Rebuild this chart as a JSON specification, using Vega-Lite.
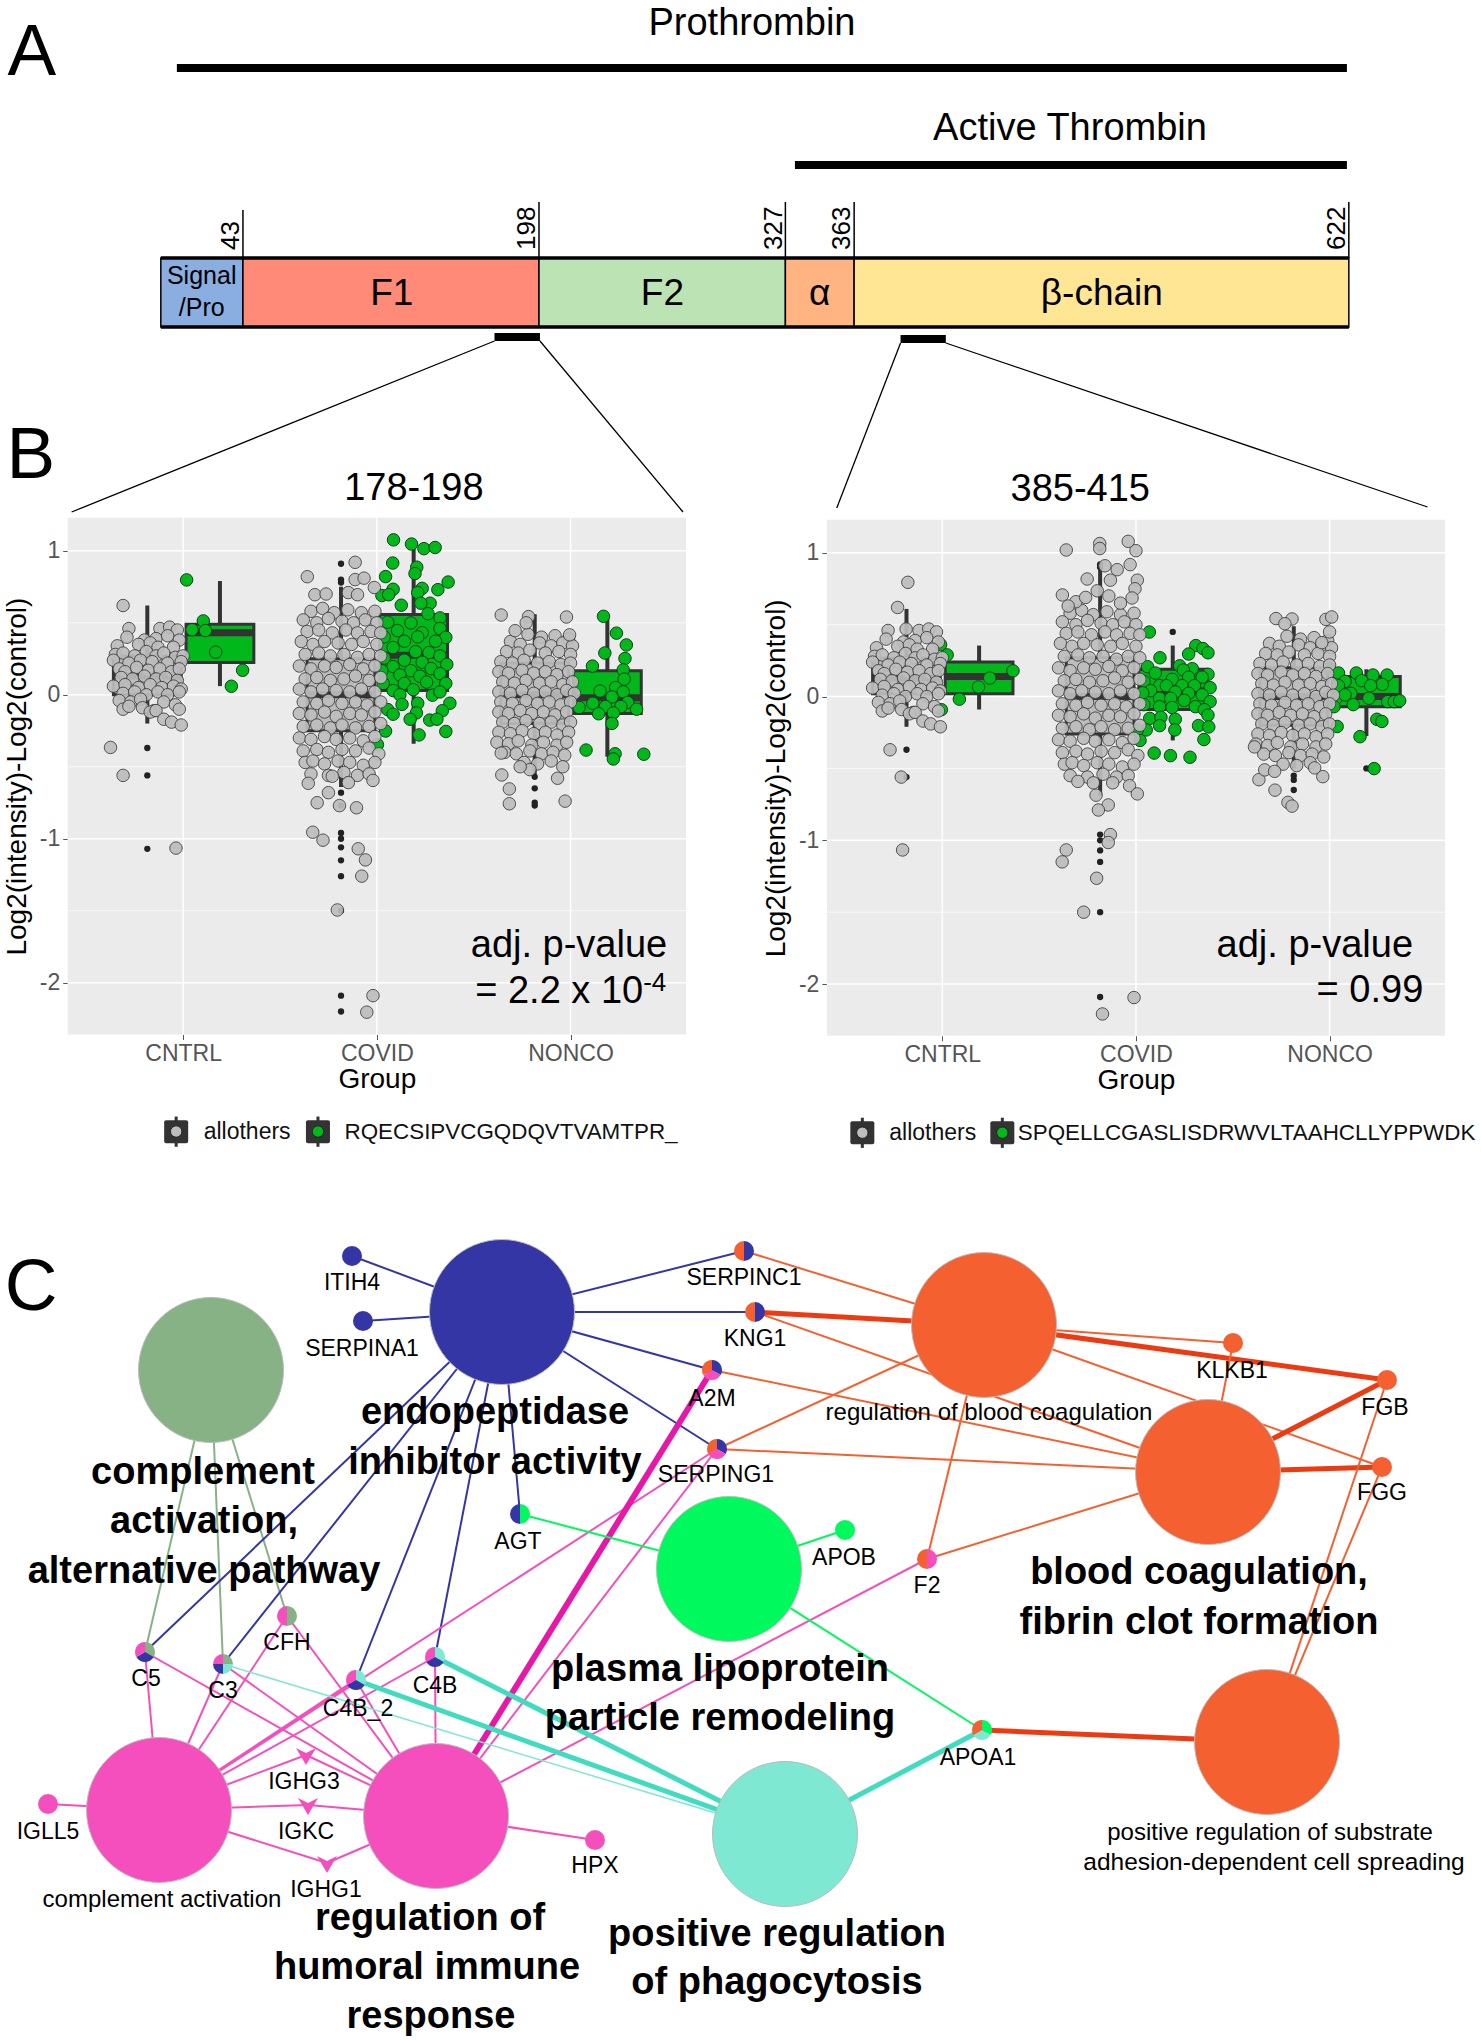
{"$schema":"https://vega.github.io/schema/vega-lite/v6.json","width":1481,"height":2040,"padding":0,"autosize":{"type":"none"},"background":"white",
"config":{"view":{"stroke":null},"font":"Liberation Sans","legend":{"disable":true},"text":{"font":"Liberation Sans"}},
"resolve":{"scale":{"x":"independent","y":"independent","color":"independent"},"axis":{"x":"independent","y":"independent"}},
"datasets":{
"track":[{"r":0,"r2":43,"l":25.8,"l2":32.7,"d":"Signal"},{"r":43,"r2":198,"l":25.8,"l2":32.7,"d":"F1"},{"r":198,"r2":327,"l":25.8,"l2":32.7,"d":"F2"},{"r":327,"r2":363,"l":25.8,"l2":32.7,"d":"alpha"},{"r":363,"r2":622,"l":25.8,"l2":32.7,"d":"beta"}],
"trackRules":[{"r":8.4,"r2":621,"l":6.8,"l2":6.8,"w":8},{"r":332,"r2":621,"l":16.5,"l2":16.5,"w":8},{"r":43,"r2":43,"l":21,"l2":25.8,"w":1.5},{"r":198,"r2":198,"l":20.2,"l2":25.8,"w":1.5},{"r":327,"r2":327,"l":20.2,"l2":25.8,"w":1.5},{"r":363,"r2":363,"l":20.2,"l2":25.8,"w":1.5},{"r":622,"r2":622,"l":20.2,"l2":25.8,"w":1.5},{"r":0,"r2":622,"l":25.8,"l2":25.8,"w":3.5},{"r":0,"r2":622,"l":32.7,"l2":32.7,"w":3.5},{"r":174.7,"r2":198.5,"l":33.7,"l2":33.7,"w":8},{"r":387.3,"r2":411,"l":33.9,"l2":33.9,"w":8},{"r":174.7,"r2":-46.7,"l":34.1,"l2":51.2,"w":1.3},{"r":198.5,"r2":273.4,"l":34.1,"l2":51.2,"w":1.3},{"r":387.3,"r2":353.9,"l":34.3,"l2":50.8,"w":1.3},{"r":411,"r2":663.2,"l":34.3,"l2":50.7,"w":1.3}],
"trackText":[{"t":"Prothrombin","r":309.5,"l":2.4,"s":38},{"t":"Active Thrombin","r":476,"l":12.9,"s":38},{"t":"F1","r":120.9,"l":29.4,"s":37},{"t":"F2","r":262.6,"l":29.4,"s":37},{"t":"α","r":345,"l":29.4,"s":37},{"t":"β-chain","r":492.7,"l":29.4,"s":37},{"t":"Signal","r":21.4,"l":27.6,"s":25},{"t":"/Pro","r":21.4,"l":30.8,"s":25},{"t":"178-198","r":132.5,"l":48.9,"s":38},{"t":"385-415","r":481.4,"l":49,"s":38},{"t":"A","r":-67.5,"l":5.3,"s":73},{"t":"B","r":-68,"l":45.6,"s":73}],
"resLabels":[{"t":"43","r":41,"l":25},{"t":"198","r":196,"l":25},{"t":"327","r":325,"l":25},{"t":"363","r":361,"l":25},{"t":"622","r":620,"l":25}],
"panel":[{"a":0.404,"b":3.596,"c":-2.36,"d":1.23}],
"gridY":[{"v":1,"a":0.404,"b":3.596,"w":1.5},{"v":0,"a":0.404,"b":3.596,"w":1.5},{"v":-1,"a":0.404,"b":3.596,"w":1.5},{"v":-2,"a":0.404,"b":3.596,"w":1.5},{"v":0.5,"a":0.404,"b":3.596,"w":0.7},{"v":-0.5,"a":0.404,"b":3.596,"w":0.7},{"v":-1.5,"a":0.404,"b":3.596,"w":0.7}],
"gridX":[{"v":1,"c":-2.36,"d":1.23},{"v":2,"c":-2.36,"d":1.23},{"v":3,"c":-2.36,"d":1.23}],
"box1":[{"x0":0.64,"x1":0.99,"p":0.815,"lo":-0.2,"q1":0,"m":0.13,"q3":0.27,"hi":0.62,"k":"o"},{"x0":1.015,"x1":1.365,"p":1.19,"lo":0.06,"q1":0.225,"m":0.43,"q3":0.49,"hi":0.79,"k":"g"},{"x0":1.64,"x1":1.99,"p":1.815,"lo":-0.64,"q1":-0.25,"m":0,"q3":0.25,"hi":0.75,"k":"o"},{"x0":2.015,"x1":2.365,"p":2.19,"lo":-0.34,"q1":0.03,"m":0.275,"q3":0.557,"hi":1.05,"k":"g"},{"x0":2.64,"x1":2.99,"p":2.815,"lo":-0.58,"q1":-0.2,"m":0,"q3":0.22,"hi":0.56,"k":"o"},{"x0":3.015,"x1":3.365,"p":3.19,"lo":-0.43,"q1":-0.13,"m":-0.02,"q3":0.167,"hi":0.53,"k":"g"}],
"box2":[{"x0":0.64,"x1":0.99,"p":0.815,"lo":-0.21,"q1":0.02,"m":0.13,"q3":0.267,"hi":0.61,"k":"o"},{"x0":1.015,"x1":1.365,"p":1.19,"lo":-0.09,"q1":0.02,"m":0.14,"q3":0.24,"hi":0.355,"k":"g"},{"x0":1.64,"x1":1.99,"p":1.815,"lo":-0.69,"q1":-0.26,"m":0,"q3":0.27,"hi":0.93,"k":"o"},{"x0":2.015,"x1":2.365,"p":2.19,"lo":-0.305,"q1":-0.09,"m":0.04,"q3":0.19,"hi":0.355,"k":"g"},{"x0":2.64,"x1":2.99,"p":2.815,"lo":-0.5,"q1":-0.2,"m":0,"q3":0.2,"hi":0.49,"k":"o"},{"x0":3.015,"x1":3.365,"p":3.19,"lo":-0.275,"q1":-0.07,"m":0,"q3":0.14,"hi":0.19,"k":"g"}],
"out1":[{"x":0.815,"y":-0.37},{"x":0.815,"y":-0.56},{"x":0.815,"y":-1.07},{"x":1.815,"y":0.91},{"x":1.815,"y":0.8},{"x":1.815,"y":0.78},{"x":1.815,"y":-0.68},{"x":1.815,"y":-0.77},{"x":1.815,"y":-0.96},{"x":1.815,"y":-1},{"x":1.815,"y":-1.06},{"x":1.815,"y":-1.15},{"x":1.815,"y":-1.26},{"x":1.815,"y":-1.5},{"x":1.815,"y":-2.09},{"x":1.815,"y":-2.2},{"x":2.815,"y":-0.57},{"x":2.815,"y":-0.65},{"x":2.815,"y":-0.75},{"x":2.815,"y":-0.77}],
"out2":[{"x":0.815,"y":-0.37},{"x":0.815,"y":-0.56},{"x":1.815,"y":1.05},{"x":1.815,"y":1.03},{"x":1.815,"y":0.92},{"x":1.815,"y":0.9},{"x":1.815,"y":-0.96},{"x":1.815,"y":-1},{"x":1.815,"y":-1.07},{"x":1.815,"y":-1.15},{"x":1.815,"y":-1.5},{"x":1.815,"y":-2.09},{"x":2.815,"y":-0.55},{"x":2.815,"y":-0.58},{"x":2.815,"y":-0.65},{"x":2.19,"y":0.45},{"x":3.19,"y":-0.5}],
"core":[{"x":0.72,"y":0.46},{"x":0.88,"y":0.46},{"x":0.93,"y":0.47},{"x":0.97,"y":0.45},{"x":0.71,"y":0.4},{"x":0.8,"y":0.38},{"x":0.86,"y":0.39},{"x":0.92,"y":0.41},{"x":0.98,"y":0.38},{"x":0.66,"y":0.34},{"x":0.77,"y":0.35},{"x":0.83,"y":0.36},{"x":0.87,"y":0.33},{"x":0.95,"y":0.33},{"x":0.65,"y":0.28},{"x":0.69,"y":0.29},{"x":0.75,"y":0.27},{"x":0.81,"y":0.3},{"x":0.86,"y":0.27},{"x":0.9,"y":0.29},{"x":0.96,"y":0.26},{"x":1,"y":0.27},{"x":0.64,"y":0.24},{"x":0.72,"y":0.22},{"x":0.78,"y":0.24},{"x":0.84,"y":0.23},{"x":0.92,"y":0.22},{"x":0.99,"y":0.23},{"x":0.67,"y":0.18},{"x":0.7,"y":0.16},{"x":0.76,"y":0.19},{"x":0.82,"y":0.17},{"x":0.88,"y":0.18},{"x":0.94,"y":0.16},{"x":0.98,"y":0.18},{"x":0.68,"y":0.12},{"x":0.74,"y":0.11},{"x":0.8,"y":0.13},{"x":0.86,"y":0.11},{"x":0.91,"y":0.12},{"x":0.97,"y":0.1},{"x":0.64,"y":0.06},{"x":0.7,"y":0.07},{"x":0.77,"y":0.05},{"x":0.83,"y":0.07},{"x":0.89,"y":0.05},{"x":0.95,"y":0.06},{"x":0.99,"y":0.04},{"x":0.69,"y":0.01},{"x":0.75,"y":0.02},{"x":0.81,"y":0},{"x":0.87,"y":0.02},{"x":0.92,"y":0},{"x":0.98,"y":0.02},{"x":0.67,"y":-0.04},{"x":0.73,"y":-0.05},{"x":0.78,"y":-0.03},{"x":0.9,"y":-0.05},{"x":0.96,"y":-0.07},{"x":0.69,"y":-0.1},{"x":0.72,"y":-0.08},{"x":0.79,"y":-0.09},{"x":0.85,"y":-0.11},{"x":0.98,"y":-0.1},{"x":0.83,"y":-0.12},{"x":0.86,"y":-0.11},{"x":0.9,"y":-0.17},{"x":0.94,"y":-0.19},{"x":0.99,"y":-0.21},
{"x":1.66,"y":0.58},{"x":1.72,"y":0.6},{"x":1.78,"y":0.57},{"x":1.85,"y":0.59},{"x":1.92,"y":0.57},{"x":1.99,"y":0.58},{"x":1.62,"y":0.52},{"x":1.69,"y":0.5},{"x":1.75,"y":0.53},{"x":1.82,"y":0.51},{"x":1.88,"y":0.5},{"x":1.94,"y":0.52},{"x":2,"y":0.5},{"x":1.64,"y":0.44},{"x":1.7,"y":0.45},{"x":1.77,"y":0.43},{"x":1.84,"y":0.45},{"x":1.9,"y":0.43},{"x":1.97,"y":0.44},{"x":2.02,"y":0.43},{"x":1.61,"y":0.37},{"x":1.67,"y":0.35},{"x":1.73,"y":0.37},{"x":1.8,"y":0.36},{"x":1.87,"y":0.35},{"x":1.93,"y":0.37},{"x":2,"y":0.35},{"x":1.63,"y":0.28},{"x":1.7,"y":0.29},{"x":1.76,"y":0.27},{"x":1.83,"y":0.28},{"x":1.9,"y":0.26},{"x":1.96,"y":0.28},{"x":2.02,"y":0.27},{"x":1.6,"y":0.2},{"x":1.66,"y":0.18},{"x":1.73,"y":0.2},{"x":1.79,"y":0.19},{"x":1.86,"y":0.21},{"x":1.93,"y":0.18},{"x":1.99,"y":0.2},{"x":1.63,"y":0.11},{"x":1.69,"y":0.12},{"x":1.76,"y":0.1},{"x":1.83,"y":0.11},{"x":1.89,"y":0.13},{"x":1.96,"y":0.1},{"x":2.02,"y":0.12},{"x":1.6,"y":0.04},{"x":1.66,"y":0.02},{"x":1.72,"y":0.04},{"x":1.79,"y":0.03},{"x":1.86,"y":0.02},{"x":1.92,"y":0.04},{"x":1.99,"y":0.02},{"x":1.62,"y":-0.05},{"x":1.69,"y":-0.06},{"x":1.75,"y":-0.04},{"x":1.82,"y":-0.06},{"x":1.89,"y":-0.05},{"x":1.95,"y":-0.07},{"x":2.02,"y":-0.05},{"x":1.6,"y":-0.13},{"x":1.66,"y":-0.14},{"x":1.73,"y":-0.12},{"x":1.79,"y":-0.15},{"x":1.86,"y":-0.13},{"x":1.92,"y":-0.14},{"x":1.99,"y":-0.12},{"x":1.62,"y":-0.22},{"x":1.69,"y":-0.21},{"x":1.76,"y":-0.23},{"x":1.82,"y":-0.21},{"x":1.89,"y":-0.23},{"x":1.96,"y":-0.22},{"x":2.02,"y":-0.2},{"x":1.6,"y":-0.3},{"x":1.66,"y":-0.31},{"x":1.73,"y":-0.29},{"x":1.79,"y":-0.31},{"x":1.86,"y":-0.3},{"x":1.93,"y":-0.32},{"x":1.99,"y":-0.29},{"x":1.62,"y":-0.39},{"x":1.69,"y":-0.38},{"x":1.75,"y":-0.4},{"x":1.82,"y":-0.38},{"x":1.89,"y":-0.39},{"x":1.96,"y":-0.37},{"x":2.01,"y":-0.41},{"x":1.63,"y":-0.47},{"x":1.67,"y":-0.46},{"x":1.73,"y":-0.48},{"x":1.8,"y":-0.46},{"x":1.86,"y":-0.47},{"x":1.93,"y":-0.49},{"x":1.99,"y":-0.47},{"x":1.66,"y":-0.55},{"x":1.75,"y":-0.56},{"x":1.83,"y":-0.54},{"x":1.9,"y":-0.56},{"x":1.96,"y":-0.55},
{"x":2.78,"y":0.42},{"x":2.85,"y":0.4},{"x":2.92,"y":0.41},{"x":2.99,"y":0.39},{"x":2.69,"y":0.37},{"x":2.74,"y":0.35},{"x":2.84,"y":0.36},{"x":2.9,"y":0.34},{"x":2.96,"y":0.36},{"x":3.01,"y":0.34},{"x":2.67,"y":0.3},{"x":2.73,"y":0.29},{"x":2.79,"y":0.31},{"x":2.87,"y":0.29},{"x":2.94,"y":0.3},{"x":3,"y":0.28},{"x":2.64,"y":0.23},{"x":2.7,"y":0.22},{"x":2.76,"y":0.24},{"x":2.83,"y":0.22},{"x":2.89,"y":0.23},{"x":2.95,"y":0.21},{"x":3,"y":0.22},{"x":2.63,"y":0.16},{"x":2.68,"y":0.15},{"x":2.75,"y":0.17},{"x":2.81,"y":0.15},{"x":2.87,"y":0.16},{"x":2.93,"y":0.14},{"x":2.99,"y":0.16},{"x":2.65,"y":0.09},{"x":2.71,"y":0.08},{"x":2.77,"y":0.1},{"x":2.84,"y":0.08},{"x":2.9,"y":0.09},{"x":2.96,"y":0.07},{"x":3.01,"y":0.09},{"x":2.63,"y":0.02},{"x":2.69,"y":0.01},{"x":2.75,"y":0.03},{"x":2.81,"y":0.01},{"x":2.87,"y":0.02},{"x":2.93,"y":0},{"x":2.98,"y":0.03},{"x":3.02,"y":0.01},{"x":2.64,"y":-0.05},{"x":2.7,"y":-0.06},{"x":2.77,"y":-0.04},{"x":2.83,"y":-0.06},{"x":2.89,"y":-0.05},{"x":2.95,"y":-0.07},{"x":3,"y":-0.05},{"x":2.63,"y":-0.12},{"x":2.68,"y":-0.13},{"x":2.74,"y":-0.11},{"x":2.8,"y":-0.13},{"x":2.86,"y":-0.12},{"x":2.92,"y":-0.14},{"x":2.98,"y":-0.12},{"x":2.65,"y":-0.19},{"x":2.71,"y":-0.2},{"x":2.77,"y":-0.18},{"x":2.84,"y":-0.2},{"x":2.9,"y":-0.19},{"x":2.96,"y":-0.21},{"x":3,"y":-0.19},{"x":2.63,"y":-0.26},{"x":2.69,"y":-0.27},{"x":2.75,"y":-0.25},{"x":2.81,"y":-0.27},{"x":2.87,"y":-0.26},{"x":2.93,"y":-0.28},{"x":2.99,"y":-0.26},{"x":2.62,"y":-0.33},{"x":2.68,"y":-0.34},{"x":2.73,"y":-0.32},{"x":2.8,"y":-0.35},{"x":2.86,"y":-0.33},{"x":2.93,"y":-0.35},{"x":2.98,"y":-0.33},{"x":2.66,"y":-0.4},{"x":2.72,"y":-0.41},{"x":2.79,"y":-0.39},{"x":2.85,"y":-0.41},{"x":2.91,"y":-0.4},{"x":2.97,"y":-0.42},{"x":2.76,"y":-0.47},{"x":2.83,"y":-0.48},{"x":2.9,"y":-0.46}],
"ex1":[{"x":0.625,"y":-0.366},{"x":0.69,"y":-0.56},{"x":0.963,"y":-1.065},{"x":0.69,"y":0.62},{"x":1.888,"y":0.92},{"x":1.641,"y":0.82},{"x":1.888,"y":0.8},{"x":1.934,"y":0.81},{"x":1.987,"y":0.745},{"x":1.68,"y":0.695},{"x":1.738,"y":0.7},{"x":1.853,"y":0.71},{"x":1.9,"y":0.695},{"x":1.692,"y":-0.75},{"x":1.75,"y":-0.68},{"x":1.807,"y":-0.77},{"x":1.895,"y":-0.785},{"x":1.669,"y":-0.955},{"x":1.722,"y":-1.01},{"x":1.904,"y":-1.07},{"x":1.941,"y":-1.147},{"x":1.922,"y":-1.26},{"x":1.796,"y":-1.495},{"x":1.98,"y":-2.09},{"x":1.948,"y":-2.205},{"x":1.646,"y":-0.615},{"x":1.853,"y":-0.61},{"x":1.98,"y":-0.595},{"x":1.77,"y":-0.566},{"x":2.642,"y":0.554},{"x":2.783,"y":0.543},{"x":2.979,"y":0.54},{"x":2.771,"y":0.5},{"x":2.714,"y":0.445},{"x":2.995,"y":0.416},{"x":2.645,"y":-0.557},{"x":2.684,"y":-0.654},{"x":2.684,"y":-0.757},{"x":2.972,"y":-0.739},{"x":2.933,"y":-0.58},{"x":2.642,"y":-0.405},{"x":2.79,"y":-0.52},{"x":2.74,"y":-0.5},{"x":2.96,"y":-0.5}],
"ex2":[{"x":0.822,"y":0.795},{"x":0.769,"y":0.62},{"x":0.73,"y":-0.37},{"x":0.788,"y":-0.56},{"x":0.795,"y":-1.067},{"x":0.813,"y":0.47},{"x":1.64,"y":1.02},{"x":1.813,"y":1.065},{"x":1.813,"y":1.03},{"x":1.96,"y":1.08},{"x":2,"y":1.015},{"x":1.84,"y":0.91},{"x":1.903,"y":0.883},{"x":1.97,"y":0.918},{"x":2.007,"y":0.81},{"x":1.748,"y":0.818},{"x":1.868,"y":0.81},{"x":1.62,"y":0.707},{"x":1.995,"y":0.75},{"x":1.98,"y":0.686},{"x":1.8,"y":0.736},{"x":1.69,"y":0.66},{"x":1.74,"y":0.69},{"x":1.86,"y":0.7},{"x":1.92,"y":0.65},{"x":1.65,"y":0.63},{"x":1.794,"y":-0.686},{"x":1.857,"y":-0.754},{"x":1.806,"y":-0.789},{"x":1.967,"y":-0.62},{"x":2.007,"y":-0.677},{"x":1.868,"y":-0.96},{"x":1.857,"y":-1.015},{"x":1.64,"y":-1.067},{"x":1.619,"y":-1.15},{"x":1.797,"y":-1.264},{"x":1.73,"y":-1.5},{"x":1.99,"y":-2.094},{"x":1.827,"y":-2.208},{"x":1.7,"y":-0.59},{"x":1.78,"y":-0.6},{"x":1.88,"y":-0.6},{"x":2.723,"y":0.543},{"x":2.806,"y":0.54},{"x":2.981,"y":0.537},{"x":3.011,"y":0.554},{"x":2.769,"y":0.507},{"x":3,"y":0.45},{"x":2.96,"y":0.375},{"x":2.635,"y":-0.578},{"x":2.718,"y":-0.651},{"x":2.785,"y":-0.736},{"x":2.806,"y":-0.762},{"x":2.965,"y":-0.557},{"x":2.923,"y":-0.496},{"x":2.612,"y":-0.35},{"x":2.665,"y":-0.51},{"x":2.716,"y":-0.52}],
"gr1":[{"x":1.018,"y":0.798},{"x":1.104,"y":0.513},{"x":1.046,"y":0.452},{"x":1.115,"y":0.446},{"x":1.168,"y":0.296},{"x":1.307,"y":0.17},{"x":1.249,"y":0.059},{"x":2.086,"y":1.076},{"x":2.179,"y":1.047},{"x":2.243,"y":1.015},{"x":2.301,"y":1.023},{"x":2.082,"y":0.915},{"x":2.206,"y":0.886},{"x":2.197,"y":0.842},{"x":2.045,"y":0.821},{"x":2.368,"y":0.783},{"x":2.315,"y":0.73},{"x":2.234,"y":0.739},{"x":2.211,"y":0.71},{"x":2.084,"y":0.733},{"x":2.026,"y":0.689},{"x":2.061,"y":0.695},{"x":2.126,"y":0.622},{"x":2.275,"y":0.636},{"x":2.227,"y":0.636},{"x":2.264,"y":0.563},{"x":2.326,"y":0.534},{"x":2.056,"y":0.504},{"x":2.176,"y":0.499},{"x":2.326,"y":0.46},{"x":2.107,"y":0.446},{"x":2.234,"y":0.431},{"x":2.356,"y":0.399},{"x":2.038,"y":0.402},{"x":2.142,"y":0.372},{"x":2.211,"y":0.402},{"x":2.303,"y":0.372},{"x":2.084,"y":0.328},{"x":2.269,"y":0.293},{"x":2.2,"y":0.299},{"x":2.038,"y":0.255},{"x":2.142,"y":0.24},{"x":2.326,"y":0.27},{"x":2.361,"y":0.211},{"x":2.234,"y":0.226},{"x":2.084,"y":0.196},{"x":2.176,"y":0.167},{"x":2.28,"y":0.182},{"x":2.026,"y":0.167},{"x":2.326,"y":0.147},{"x":2.119,"y":0.138},{"x":2.222,"y":0.129},{"x":2.033,"y":0.079},{"x":2.142,"y":0.079},{"x":2.257,"y":0.088},{"x":2.356,"y":0.079},{"x":2.084,"y":0.029},{"x":2.188,"y":0.035},{"x":2.287,"y":-0.003},{"x":2.119,"y":0},{"x":2.326,"y":0.02},{"x":2.377,"y":-0.059},{"x":2.13,"y":-0.067},{"x":2.211,"y":-0.059},{"x":2.056,"y":-0.103},{"x":2.338,"y":-0.111},{"x":2.084,"y":-0.135},{"x":2.204,"y":-0.126},{"x":2.172,"y":-0.17},{"x":2.273,"y":-0.176},{"x":2.31,"y":-0.17},{"x":2.045,"y":-0.252},{"x":2.218,"y":-0.279},{"x":2.356,"y":-0.255},{"x":2.003,"y":-0.346},{"x":3.17,"y":0.545},{"x":3.237,"y":0.428},{"x":3.288,"y":0.346},{"x":3.177,"y":0.29},{"x":3.281,"y":0.252},{"x":3.113,"y":0.199},{"x":3.272,"y":0.173},{"x":3.277,"y":0.109},{"x":3.233,"y":0.05},{"x":3.152,"y":0.026},{"x":3.272,"y":0.02},{"x":3.214,"y":-0.015},{"x":3.115,"y":-0.059},{"x":3.295,"y":-0.053},{"x":3.044,"y":-0.088},{"x":3.18,"y":-0.082},{"x":3.26,"y":-0.082},{"x":3.341,"y":-0.1},{"x":3.145,"y":-0.132},{"x":3.221,"y":-0.126},{"x":3.214,"y":-0.199},{"x":3.08,"y":-0.384},{"x":3.23,"y":-0.41},{"x":3.221,"y":-0.446},{"x":3.378,"y":-0.413}],
"gr2":[{"x":0.991,"y":0.361},{"x":1.025,"y":0.29},{"x":1.365,"y":0.179},{"x":1.245,"y":0.129},{"x":1.187,"y":0.067},{"x":1.088,"y":-0.018},{"x":0.995,"y":-0.091},{"x":2.069,"y":0.449},{"x":2.309,"y":0.355},{"x":2.346,"y":0.334},{"x":2.372,"y":0.305},{"x":2.272,"y":0.296},{"x":2.124,"y":0.27},{"x":2.06,"y":0.208},{"x":2.226,"y":0.214},{"x":2.291,"y":0.194},{"x":2.245,"y":0.185},{"x":2.372,"y":0.155},{"x":2.1,"y":0.164},{"x":2.187,"y":0.12},{"x":2.272,"y":0.135},{"x":2.342,"y":0.135},{"x":2.041,"y":0.106},{"x":2.122,"y":0.076},{"x":2.157,"y":0.076},{"x":2.238,"y":0.076},{"x":2.302,"y":0.076},{"x":2.383,"y":0.062},{"x":2.076,"y":0.041},{"x":2.203,"y":0.032},{"x":2.272,"y":0.023},{"x":2.342,"y":0.012},{"x":2.035,"y":0.026},{"x":2.122,"y":-0.012},{"x":2.18,"y":-0.012},{"x":2.249,"y":-0.026},{"x":2.383,"y":-0.035},{"x":2.041,"y":-0.056},{"x":2.122,"y":-0.07},{"x":2.187,"y":-0.076},{"x":2.307,"y":-0.07},{"x":2.353,"y":-0.091},{"x":2.372,"y":-0.129},{"x":2.071,"y":-0.152},{"x":2.129,"y":-0.144},{"x":2.203,"y":-0.158},{"x":2.122,"y":-0.202},{"x":2.053,"y":-0.232},{"x":2.007,"y":-0.232},{"x":2.201,"y":-0.232},{"x":2.323,"y":-0.202},{"x":2.376,"y":-0.211},{"x":2.021,"y":-0.305},{"x":2.351,"y":-0.299},{"x":2.094,"y":-0.393},{"x":2.178,"y":-0.411},{"x":2.279,"y":-0.422},{"x":3,"y":0.194},{"x":3.046,"y":0.164},{"x":3.138,"y":0.164},{"x":3.224,"y":0.15},{"x":3.297,"y":0.15},{"x":3.08,"y":0.106},{"x":3.166,"y":0.111},{"x":3.272,"y":0.085},{"x":3.212,"y":0.076},{"x":3.046,"y":0.076},{"x":3.11,"y":0.023},{"x":3.034,"y":-0.012},{"x":3.08,"y":0.012},{"x":3.203,"y":-0.012},{"x":3.3,"y":-0.035},{"x":3.334,"y":-0.035},{"x":3.362,"y":-0.029},{"x":3.122,"y":-0.056},{"x":3.023,"y":-0.07},{"x":3.244,"y":-0.158},{"x":3.27,"y":-0.173},{"x":3.039,"y":-0.208},{"x":3.157,"y":-0.279},{"x":3.23,"y":-0.501}],
"nodes":[{"id":"alt","x":21.1,"y":137,"term":"alt","kind":"term"},{"id":"endo","x":50.2,"y":131.2,"term":"endo","kind":"term"},{"id":"ca","x":15.9,"y":181,"term":"immune","kind":"term"},{"id":"hum","x":43.6,"y":181.6,"term":"immune","kind":"term"},{"id":"plasma","x":72.9,"y":156.9,"term":"plasma","kind":"term"},{"id":"phago","x":78.5,"y":183.4,"term":"phago","kind":"term"},{"id":"rbc","x":98.4,"y":132.5,"term":"coag","kind":"term"},{"id":"fib","x":120.8,"y":147.2,"term":"coag","kind":"term"},{"id":"sub","x":126.7,"y":174.2,"term":"coag","kind":"term"},
{"id":"ITIH4","x":35.2,"y":125.6,"term":"endo","kind":"gene"},{"id":"SERPINA1","x":36.3,"y":132.1,"term":"endo","kind":"gene"},{"id":"APOB","x":84.5,"y":153,"term":"plasma","kind":"gene"},{"id":"KLKB1","x":123.3,"y":134.3,"term":"coag","kind":"gene"},{"id":"FGB","x":138.7,"y":138,"term":"coag","kind":"gene"},{"id":"FGG","x":138.2,"y":146.7,"term":"coag","kind":"gene"},{"id":"IGLL5","x":4.8,"y":180.4,"term":"immune","kind":"gene"},{"id":"HPX","x":59.5,"y":184,"term":"immune","kind":"gene"},
{"id":"IGHG3","x":30.6,"y":175.5,"term":"immune","kind":"v"},{"id":"IGKC","x":30.8,"y":180.5,"term":"immune","kind":"v"},{"id":"IGHG1","x":32.7,"y":186.3,"term":"immune","kind":"v"},
{"id":"SERPINC1","x":74.4,"y":125.1,"kind":"pie"},{"id":"KNG1","x":75.5,"y":131.2,"kind":"pie"},{"id":"A2M","x":71.2,"y":137,"kind":"pie"},{"id":"SERPING1","x":71.7,"y":144.9,"kind":"pie"},{"id":"AGT","x":52,"y":151.4,"kind":"pie"},{"id":"F2","x":92.7,"y":155.9,"kind":"pie"},{"id":"APOA1","x":98.2,"y":173,"kind":"pie"},{"id":"C5","x":14.5,"y":165.2,"kind":"pie"},{"id":"C3","x":22.3,"y":166.4,"kind":"pie"},{"id":"CFH","x":28.7,"y":161.6,"kind":"pie"},{"id":"C4B_2","x":35.6,"y":168,"kind":"pie"},{"id":"C4B","x":43.5,"y":165.7,"kind":"pie"}],
"pies":[{"id":"SERPINC1","term":"coag","a":180,"b":360},{"id":"SERPINC1","term":"endo","a":0,"b":180},{"id":"KNG1","term":"coag","a":180,"b":360},{"id":"KNG1","term":"endo","a":0,"b":180},{"id":"A2M","term":"endo","a":0,"b":120},{"id":"A2M","term":"immune","a":120,"b":240},{"id":"A2M","term":"coag","a":240,"b":360},{"id":"SERPING1","term":"endo","a":0,"b":120},{"id":"SERPING1","term":"immune","a":120,"b":240},{"id":"SERPING1","term":"coag","a":240,"b":360},{"id":"AGT","term":"endo","a":180,"b":360},{"id":"AGT","term":"plasma","a":0,"b":180},{"id":"F2","term":"coag","a":180,"b":360},{"id":"F2","term":"immune","a":0,"b":180},{"id":"APOA1","term":"plasma","a":0,"b":120},{"id":"APOA1","term":"phago","a":120,"b":240},{"id":"APOA1","term":"coag","a":240,"b":360},{"id":"C5","term":"alt","a":0,"b":120},{"id":"C5","term":"endo","a":120,"b":240},{"id":"C5","term":"immune","a":240,"b":360},{"id":"C3","term":"alt","a":0,"b":90},{"id":"C3","term":"phago","a":90,"b":180},{"id":"C3","term":"endo","a":180,"b":270},{"id":"C3","term":"immune","a":270,"b":360},{"id":"CFH","term":"alt","a":0,"b":180},{"id":"CFH","term":"immune","a":180,"b":360},{"id":"C4B_2","term":"phago","a":0,"b":120},{"id":"C4B_2","term":"endo","a":120,"b":240},{"id":"C4B_2","term":"immune","a":240,"b":360},{"id":"C4B","term":"phago","a":0,"b":120},{"id":"C4B","term":"endo","a":120,"b":240},{"id":"C4B","term":"immune","a":240,"b":360}],
"edges":[{"s":"alt","t":"C5","term":"alt","w":2},{"s":"alt","t":"C3","term":"alt","w":2},{"s":"alt","t":"CFH","term":"alt","w":2},
{"s":"endo","t":"ITIH4","term":"endo","w":2},{"s":"endo","t":"SERPINA1","term":"endo","w":2},{"s":"endo","t":"SERPINC1","term":"endo","w":2},{"s":"endo","t":"KNG1","term":"endo","w":2},{"s":"endo","t":"A2M","term":"endo","w":2},{"s":"endo","t":"SERPING1","term":"endo","w":2},{"s":"endo","t":"AGT","term":"endo","w":2},{"s":"endo","t":"C5","term":"endo","w":2},{"s":"endo","t":"C3","term":"endo","w":2},{"s":"endo","t":"C4B_2","term":"endo","w":2},{"s":"endo","t":"C4B","term":"endo","w":2},
{"s":"rbc","t":"SERPINC1","term":"coag","w":2},{"s":"rbc","t":"KNG1","term":"coag2","w":5},{"s":"rbc","t":"KLKB1","term":"coag","w":2},{"s":"rbc","t":"FGB","term":"coag2","w":5},{"s":"rbc","t":"FGG","term":"coag","w":2},{"s":"rbc","t":"F2","term":"coag","w":2},{"s":"rbc","t":"SERPING1","term":"coag","w":2},
{"s":"fib","t":"KNG1","term":"coag","w":2},{"s":"fib","t":"A2M","term":"coag","w":2},{"s":"fib","t":"SERPING1","term":"coag","w":2},{"s":"fib","t":"F2","term":"coag","w":2},{"s":"fib","t":"KLKB1","term":"coag","w":2},{"s":"fib","t":"FGB","term":"coag2","w":5},{"s":"fib","t":"FGG","term":"coag2","w":5},
{"s":"sub","t":"FGB","term":"coag","w":2},{"s":"sub","t":"FGG","term":"coag","w":2},{"s":"sub","t":"APOA1","term":"coag2","w":5},
{"s":"ca","t":"C5","term":"immune","w":2},{"s":"ca","t":"C3","term":"immune","w":2},{"s":"ca","t":"CFH","term":"immune","w":2},{"s":"ca","t":"C4B_2","term":"immune","w":3},{"s":"ca","t":"C4B","term":"immune","w":2},{"s":"ca","t":"IGHG3","term":"immune","w":2},{"s":"ca","t":"IGKC","term":"immune","w":2},{"s":"ca","t":"IGHG1","term":"immune","w":2},{"s":"ca","t":"IGLL5","term":"immune","w":2},{"s":"ca","t":"SERPING1","term":"immune","w":2},
{"s":"hum","t":"C5","term":"immune","w":2},{"s":"hum","t":"C3","term":"immune","w":2},{"s":"hum","t":"CFH","term":"immune","w":2},{"s":"hum","t":"C4B_2","term":"immune","w":2},{"s":"hum","t":"C4B","term":"immune","w":2},{"s":"hum","t":"IGHG3","term":"immune","w":2},{"s":"hum","t":"IGKC","term":"immune","w":2},{"s":"hum","t":"IGHG1","term":"immune","w":2},{"s":"hum","t":"HPX","term":"immune","w":2},{"s":"hum","t":"A2M","term":"immune2","w":6},{"s":"hum","t":"SERPING1","term":"immune","w":2},{"s":"hum","t":"F2","term":"immune","w":2},
{"s":"phago","t":"C3","term":"phago","w":1.5},{"s":"phago","t":"C4B_2","term":"phago2","w":5},{"s":"phago","t":"C4B","term":"phago2","w":5},{"s":"phago","t":"APOA1","term":"phago2","w":5},
{"s":"plasma","t":"AGT","term":"plasma","w":2},{"s":"plasma","t":"APOB","term":"plasma","w":2},{"s":"plasma","t":"APOA1","term":"plasma","w":2}],
"plain":[{"t":"C","x":3.1,"y":128.8,"s":73},{"t":"ITIH4","x":35.2,"y":128.3,"s":23},{"t":"SERPINA1","x":36.2,"y":134.9,"s":23},{"t":"SERPINC1","x":74.4,"y":127.8,"s":23},{"t":"KNG1","x":75.5,"y":133.9,"s":23},{"t":"A2M","x":71.2,"y":139.9,"s":23},{"t":"SERPING1","x":71.6,"y":147.5,"s":23},{"t":"AGT","x":51.8,"y":154.2,"s":23},{"t":"APOB","x":84.4,"y":155.8,"s":23},{"t":"F2","x":92.7,"y":158.6,"s":23},{"t":"KLKB1","x":123.2,"y":137.1,"s":23},{"t":"FGB","x":138.5,"y":140.8,"s":23},{"t":"FGG","x":138.2,"y":149.3,"s":23},{"t":"APOA1","x":97.8,"y":175.8,"s":23},{"t":"C5","x":14.6,"y":167.9,"s":23},{"t":"C3","x":22.3,"y":169.1,"s":23},{"t":"CFH","x":28.7,"y":164.3,"s":23},{"t":"C4B_2","x":35.8,"y":170.9,"s":23},{"t":"C4B","x":43.5,"y":168.6,"s":23},{"t":"IGHG3","x":30.4,"y":178.2,"s":23},{"t":"IGKC","x":30.6,"y":183.2,"s":23},{"t":"IGHG1","x":32.6,"y":189,"s":23},{"t":"IGLL5","x":4.8,"y":183.2,"s":23},{"t":"HPX","x":59.5,"y":186.6,"s":23},{"t":"complement activation","x":16.2,"y":190,"s":24},{"t":"regulation of blood coagulation","x":98.9,"y":141.3,"s":24},{"t":"positive regulation of substrate","x":127,"y":183.3,"s":24},{"t":"adhesion-dependent cell spreading","x":127.4,"y":186.3,"s":24.5}],
"bold":[{"t":"endopeptidase","x":49.5,"y":141.3},{"t":"inhibitor activity","x":49.5,"y":146.3},{"t":"complement","x":20.3,"y":147.3},{"t":"activation,","x":20.4,"y":152.2},{"t":"alternative pathway","x":20.4,"y":157.2},{"t":"regulation of","x":43,"y":191.9},{"t":"humoral immune","x":42.7,"y":196.8},{"t":"response","x":43.1,"y":201.7},{"t":"plasma lipoprotein","x":72,"y":167},{"t":"particle remodeling","x":72,"y":171.9},{"t":"positive regulation","x":77.7,"y":193.5},{"t":"of phagocytosis","x":77.7,"y":198.3},{"t":"blood coagulation,","x":119.9,"y":157.3},{"t":"fibrin clot formation","x":119.9,"y":162.3}]
},
"layer":[
{"layer":[
{"data":{"name":"track"},"mark":{"type":"rect","stroke":"#000","strokeWidth":1.5},"encoding":{"x":{"field":"r","type":"quantitative","axis":null,"scale":{"domain":[-84.2,691.2],"range":[0,1481],"nice":false,"zero":false}},"x2":{"field":"r2"},"y":{"field":"l","type":"quantitative","axis":null,"scale":{"domain":[0,52],"range":[0,520],"nice":false,"zero":false}},"y2":{"field":"l2"},"color":{"field":"d","type":"nominal","scale":{"domain":["Signal","F1","F2","alpha","beta"],"range":["#8aaee0","#ff8a78","#bce3b4","#ffb482","#ffe695"]}}}},
{"data":{"name":"trackRules"},"mark":{"type":"rule","color":"#000"},"encoding":{"x":{"field":"r","type":"quantitative","axis":null},"x2":{"field":"r2"},"y":{"field":"l","type":"quantitative","axis":null},"y2":{"field":"l2"},"size":{"field":"w","type":"quantitative","scale":null}}},
{"data":{"name":"trackText"},"mark":{"type":"text","baseline":"middle","align":"center","color":"#000"},"encoding":{"x":{"field":"r","type":"quantitative","axis":null},"y":{"field":"l","type":"quantitative","axis":null},"text":{"field":"t"},"size":{"field":"s","type":"quantitative","scale":null}}},
{"data":{"name":"resLabels"},"mark":{"type":"text","angle":270,"align":"left","baseline":"alphabetic","fontSize":26,"color":"#000"},"encoding":{"x":{"field":"r","type":"quantitative","axis":null},"y":{"field":"l","type":"quantitative","axis":null},"text":{"field":"t"}}}
]},
{"data":{"name":"panel"},"mark":{"type":"rect","fill":"#ebebeb"},"encoding":{"x":{"field":"a","type":"quantitative","scale":{"domain":[0.404,3.596],"range":[67.7,686],"nice":false,"zero":false},"title":"Group","axis":{"orient":"bottom","offset":-1005.5,"values":[1,2,3],"labelExpr":"datum.value==1?'CNTRL':datum.value==2?'COVID':'NONCO'","grid":false,"domain":false,"tickColor":"#555","tickSize":5,"labelColor":"#555","labelFontSize":23,"labelPadding":3,"titleFontSize":28,"titleFontWeight":"normal","titleColor":"#000","titlePadding":0,"labelFlush":false}},"x2":{"field":"b"},"y":{"field":"c","type":"quantitative","scale":{"domain":[-2.36,1.23],"range":[1034.5,517.7],"nice":false,"zero":false},"title":"Log2(intensity)-Log2(control)","axis":{"orient":"left","offset":-67.7,"values":[1,0,-1,-2],"labelExpr":"''+datum.value","grid":false,"domain":false,"tickColor":"#555","tickSize":5,"labelColor":"#555","labelFontSize":23,"labelPadding":3,"titleFontSize":28,"titleFontWeight":"normal","titleColor":"#000","titlePadding":8}},"y2":{"field":"d"}}},
{"layer":[
{"data":{"name":"gridY"},"mark":{"type":"rule","color":"#fff"},"encoding":{"x":{"field":"a","type":"quantitative","axis":null,"scale":{"domain":[0.404,3.596],"range":[67.7,686],"nice":false,"zero":false}},"x2":{"field":"b"},"y":{"field":"v","type":"quantitative","axis":null,"scale":{"domain":[-2.36,1.23],"range":[1034.5,517.7],"nice":false,"zero":false}},"size":{"field":"w","type":"quantitative","scale":null}}},
{"data":{"name":"gridX"},"mark":{"type":"rule","color":"#fff","strokeWidth":1.5},"encoding":{"x":{"field":"v","type":"quantitative","axis":null},"y":{"field":"c","type":"quantitative","axis":null},"y2":{"field":"d"}}},
{"data":{"name":"box1"},"mark":{"type":"rule","color":"#333","strokeWidth":4},"encoding":{"x":{"field":"p","type":"quantitative","axis":null},"y":{"field":"lo","type":"quantitative","axis":null},"y2":{"field":"hi"}}},
{"data":{"name":"box1"},"transform":[{"filter":"datum.k=='o'"}],"mark":{"type":"rect","fill":"#bdbdbd","stroke":"#333","strokeWidth":3},"encoding":{"x":{"field":"x0","type":"quantitative","axis":null},"x2":{"field":"x1"},"y":{"field":"q1","type":"quantitative","axis":null},"y2":{"field":"q3"}}},
{"data":{"name":"box1"},"transform":[{"filter":"datum.k=='g'"}],"mark":{"type":"rect","fill":"#00b81a","stroke":"#333","strokeWidth":3},"encoding":{"x":{"field":"x0","type":"quantitative","axis":null},"x2":{"field":"x1"},"y":{"field":"q1","type":"quantitative","axis":null},"y2":{"field":"q3"}}},
{"data":{"name":"box1"},"mark":{"type":"rule","color":"#333","strokeWidth":7},"encoding":{"x":{"field":"x0","type":"quantitative","axis":null},"x2":{"field":"x1"},"y":{"field":"m","type":"quantitative","axis":null}}},
{"data":{"name":"out1"},"mark":{"type":"circle","color":"#222","size":40,"opacity":1},"encoding":{"x":{"field":"x","type":"quantitative","axis":null},"y":{"field":"y","type":"quantitative","axis":null}}},
{"data":{"name":"gr1"},"mark":{"type":"circle","fill":"#00b81a","stroke":"#14401c","strokeWidth":1,"size":156,"opacity":1},"encoding":{"x":{"field":"x","type":"quantitative","axis":null},"y":{"field":"y","type":"quantitative","axis":null}}},
{"data":{"name":"core"},"mark":{"type":"circle","fill":"#bdbdbd","stroke":"#444","strokeWidth":1,"size":156,"opacity":0.92},"encoding":{"x":{"field":"x","type":"quantitative","axis":null},"y":{"field":"y","type":"quantitative","axis":null}}},
{"data":{"name":"ex1"},"mark":{"type":"circle","fill":"#bdbdbd","stroke":"#444","strokeWidth":1,"size":156,"opacity":0.92},"encoding":{"x":{"field":"x","type":"quantitative","axis":null},"y":{"field":"y","type":"quantitative","axis":null}}},
{"data":{"values":[{"x":3.499,"y":-1.82,"t":"adj. p-value","s":38},{"x":3.375,"y":-2.144,"t":"= 2.2 x 10","s":38}]},"mark":{"type":"text","align":"right","baseline":"alphabetic","color":"#000"},"encoding":{"x":{"field":"x","type":"quantitative","axis":null},"y":{"field":"y","type":"quantitative","axis":null},"text":{"field":"t"},"size":{"field":"s","type":"quantitative","scale":null}}},
{"data":{"values":[{"x":3.375,"y":-2.06,"t":"-4"}]},"mark":{"type":"text","align":"left","baseline":"alphabetic","color":"#000","fontSize":26},"encoding":{"x":{"field":"x","type":"quantitative","axis":null},"y":{"field":"y","type":"quantitative","axis":null},"text":{"field":"t"}}},
{"data":{"values":[{"x":0.964,"y":-3.14,"y2":-2.93},{"x":1.696,"y":-3.14,"y2":-2.93}]},"mark":{"type":"rule","color":"#333","strokeWidth":3},"encoding":{"x":{"field":"x","type":"quantitative","axis":null},"y":{"field":"y","type":"quantitative","axis":null},"y2":{"field":"y2"}}},
{"data":{"values":[{"x":0.902,"x2":1.026,"y":-3.115,"y2":-2.955},{"x":1.634,"x2":1.758,"y":-3.115,"y2":-2.955}]},"mark":{"type":"rect","fill":"#333","cornerRadius":2},"encoding":{"x":{"field":"x","type":"quantitative","axis":null},"x2":{"field":"x2"},"y":{"field":"y","type":"quantitative","axis":null},"y2":{"field":"y2"}}},
{"data":{"values":[{"x":0.964,"y":-3.034,"k":"o"},{"x":1.696,"y":-3.034,"k":"g"}]},"mark":{"type":"circle","stroke":"#222","strokeWidth":1,"size":130,"opacity":1},"encoding":{"x":{"field":"x","type":"quantitative","axis":null},"y":{"field":"y","type":"quantitative","axis":null},"fill":{"field":"k","type":"nominal","scale":{"domain":["o","g"],"range":["#bdbdbd","#00b81a"]}}}},
{"data":{"values":[{"x":1.106,"y":-3.034,"t":"allothers","s":23},{"x":1.833,"y":-3.034,"t":"RQECSIPVCGQDQVTVAMTPR_","s":22.4}]},"mark":{"type":"text","align":"left","baseline":"middle","color":"#111"},"encoding":{"x":{"field":"x","type":"quantitative","axis":null},"y":{"field":"y","type":"quantitative","axis":null},"text":{"field":"t"},"size":{"field":"s","type":"quantitative","scale":null}}}
]},
{"data":{"name":"panel"},"mark":{"type":"rect","fill":"#ebebeb"},"encoding":{"x":{"field":"a","type":"quantitative","scale":{"domain":[0.404,3.596],"range":[826.9,1445],"nice":false,"zero":false},"title":"Group","axis":{"orient":"bottom","offset":-1004.2,"values":[1,2,3],"labelExpr":"datum.value==1?'CNTRL':datum.value==2?'COVID':'NONCO'","grid":false,"domain":false,"tickColor":"#555","tickSize":5,"labelColor":"#555","labelFontSize":23,"labelPadding":3,"titleFontSize":28,"titleFontWeight":"normal","titleColor":"#000","titlePadding":0,"labelFlush":false}},"x2":{"field":"b"},"y":{"field":"c","type":"quantitative","scale":{"domain":[-2.36,1.23],"range":[1035.8,519.8],"nice":false,"zero":false},"title":"Log2(intensity)-Log2(control)","axis":{"orient":"left","offset":-826.9,"values":[1,0,-1,-2],"labelExpr":"''+datum.value","grid":false,"domain":false,"tickColor":"#555","tickSize":5,"labelColor":"#555","labelFontSize":23,"labelPadding":3,"titleFontSize":28,"titleFontWeight":"normal","titleColor":"#000","titlePadding":8}},"y2":{"field":"d"}}},
{"layer":[
{"data":{"name":"gridY"},"mark":{"type":"rule","color":"#fff"},"encoding":{"x":{"field":"a","type":"quantitative","axis":null,"scale":{"domain":[0.404,3.596],"range":[826.9,1445],"nice":false,"zero":false}},"x2":{"field":"b"},"y":{"field":"v","type":"quantitative","axis":null,"scale":{"domain":[-2.36,1.23],"range":[1035.8,519.8],"nice":false,"zero":false}},"size":{"field":"w","type":"quantitative","scale":null}}},
{"data":{"name":"gridX"},"mark":{"type":"rule","color":"#fff","strokeWidth":1.5},"encoding":{"x":{"field":"v","type":"quantitative","axis":null},"y":{"field":"c","type":"quantitative","axis":null},"y2":{"field":"d"}}},
{"data":{"name":"box2"},"mark":{"type":"rule","color":"#333","strokeWidth":4},"encoding":{"x":{"field":"p","type":"quantitative","axis":null},"y":{"field":"lo","type":"quantitative","axis":null},"y2":{"field":"hi"}}},
{"data":{"name":"box2"},"transform":[{"filter":"datum.k=='o'"}],"mark":{"type":"rect","fill":"#bdbdbd","stroke":"#333","strokeWidth":3},"encoding":{"x":{"field":"x0","type":"quantitative","axis":null},"x2":{"field":"x1"},"y":{"field":"q1","type":"quantitative","axis":null},"y2":{"field":"q3"}}},
{"data":{"name":"box2"},"transform":[{"filter":"datum.k=='g'"}],"mark":{"type":"rect","fill":"#00b81a","stroke":"#333","strokeWidth":3},"encoding":{"x":{"field":"x0","type":"quantitative","axis":null},"x2":{"field":"x1"},"y":{"field":"q1","type":"quantitative","axis":null},"y2":{"field":"q3"}}},
{"data":{"name":"box2"},"mark":{"type":"rule","color":"#333","strokeWidth":7},"encoding":{"x":{"field":"x0","type":"quantitative","axis":null},"x2":{"field":"x1"},"y":{"field":"m","type":"quantitative","axis":null}}},
{"data":{"name":"out2"},"mark":{"type":"circle","color":"#222","size":40,"opacity":1},"encoding":{"x":{"field":"x","type":"quantitative","axis":null},"y":{"field":"y","type":"quantitative","axis":null}}},
{"data":{"name":"gr2"},"mark":{"type":"circle","fill":"#00b81a","stroke":"#14401c","strokeWidth":1,"size":156,"opacity":1},"encoding":{"x":{"field":"x","type":"quantitative","axis":null},"y":{"field":"y","type":"quantitative","axis":null}}},
{"data":{"name":"core"},"mark":{"type":"circle","fill":"#bdbdbd","stroke":"#444","strokeWidth":1,"size":156,"opacity":0.92},"encoding":{"x":{"field":"x","type":"quantitative","axis":null},"y":{"field":"y","type":"quantitative","axis":null}}},
{"data":{"name":"ex2"},"mark":{"type":"circle","fill":"#bdbdbd","stroke":"#444","strokeWidth":1,"size":156,"opacity":0.92},"encoding":{"x":{"field":"x","type":"quantitative","axis":null},"y":{"field":"y","type":"quantitative","axis":null}}},
{"data":{"values":[{"x":3.431,"y":-1.809,"t":"adj. p-value"},{"x":3.484,"y":-2.127,"t":"= 0.99"}]},"mark":{"type":"text","align":"right","baseline":"alphabetic","color":"#000","fontSize":38},"encoding":{"x":{"field":"x","type":"quantitative","axis":null},"y":{"field":"y","type":"quantitative","axis":null},"text":{"field":"t"}}},
{"data":{"values":[{"x":0.587,"y":-3.14,"y2":-2.93},{"x":1.31,"y":-3.14,"y2":-2.93}]},"mark":{"type":"rule","color":"#333","strokeWidth":3},"encoding":{"x":{"field":"x","type":"quantitative","axis":null},"y":{"field":"y","type":"quantitative","axis":null},"y2":{"field":"y2"}}},
{"data":{"values":[{"x":0.525,"x2":0.649,"y":-3.115,"y2":-2.955},{"x":1.248,"x2":1.372,"y":-3.115,"y2":-2.955}]},"mark":{"type":"rect","fill":"#333","cornerRadius":2},"encoding":{"x":{"field":"x","type":"quantitative","axis":null},"x2":{"field":"x2"},"y":{"field":"y","type":"quantitative","axis":null},"y2":{"field":"y2"}}},
{"data":{"values":[{"x":0.587,"y":-3.034,"k":"o"},{"x":1.31,"y":-3.034,"k":"g"}]},"mark":{"type":"circle","stroke":"#222","strokeWidth":1,"size":130,"opacity":1},"encoding":{"x":{"field":"x","type":"quantitative","axis":null},"y":{"field":"y","type":"quantitative","axis":null},"fill":{"field":"k","type":"nominal","scale":{"domain":["o","g"],"range":["#bdbdbd","#00b81a"]}}}},
{"data":{"values":[{"x":0.726,"y":-3.034,"t":"allothers","s":23},{"x":1.39,"y":-3.034,"t":"SPQELLCGASLISDRWVLTAAHCLLYPPWDK","s":22.4}]},"mark":{"type":"text","align":"left","baseline":"middle","color":"#111"},"encoding":{"x":{"field":"x","type":"quantitative","axis":null},"y":{"field":"y","type":"quantitative","axis":null},"text":{"field":"t"},"size":{"field":"s","type":"quantitative","scale":null}}}
]},
{"layer":[
{"data":{"name":"edges"},"transform":[{"lookup":"s","from":{"data":{"name":"nodes"},"key":"id","fields":["x","y"]},"as":["sx","sy"]},{"lookup":"t","from":{"data":{"name":"nodes"},"key":"id","fields":["x","y"]},"as":["tx","ty"]}],"mark":{"type":"rule"},"encoding":{"x":{"field":"sx","type":"quantitative","axis":null,"scale":{"domain":[0,148.1],"range":[0,1481],"nice":false,"zero":false}},"x2":{"field":"tx"},"y":{"field":"sy","type":"quantitative","axis":null,"scale":{"domain":[120,204],"range":[1200,2040],"nice":false,"zero":false}},"y2":{"field":"ty"},"size":{"field":"w","type":"quantitative","scale":null},"color":{"field":"term","type":"nominal","scale":{"domain":["alt","endo","immune","immune2","plasma","phago","phago2","coag","coag2"],"range":["#87b285","#3436a5","#f54fbd","#e817a8","#00f95c","#7ee8d2","#40dcc0","#f4602f","#ee3a10"]}}}},
{"data":{"name":"nodes"},"transform":[{"filter":"datum.kind=='term'"}],"mark":{"type":"circle","size":21025,"opacity":1,"stroke":"#bbb","strokeWidth":1},"encoding":{"x":{"field":"x","type":"quantitative","axis":null},"y":{"field":"y","type":"quantitative","axis":null},"color":{"field":"term","type":"nominal"}}},
{"data":{"name":"nodes"},"transform":[{"filter":"datum.kind=='gene'"}],"mark":{"type":"circle","size":400,"opacity":1},"encoding":{"x":{"field":"x","type":"quantitative","axis":null},"y":{"field":"y","type":"quantitative","axis":null},"color":{"field":"term","type":"nominal"}}},
{"data":{"name":"nodes"},"transform":[{"filter":"datum.kind=='v'"}],"mark":{"type":"point","filled":true,"opacity":1,"size":400,"shape":"M-1,-0.7L0,-0.2L1,-0.7L0,1Z"},"encoding":{"x":{"field":"x","type":"quantitative","axis":null},"y":{"field":"y","type":"quantitative","axis":null},"color":{"field":"term","type":"nominal"}}},
{"data":{"name":"pies"},"transform":[{"lookup":"id","from":{"data":{"name":"nodes"},"key":"id","fields":["x","y"]}}],"mark":{"type":"arc","outerRadius":10},"encoding":{"x":{"field":"x","type":"quantitative","axis":null},"y":{"field":"y","type":"quantitative","axis":null},"theta":{"field":"a","type":"quantitative","scale":{"domain":[0,360],"range":[0,6.2832]}},"theta2":{"field":"b"},"color":{"field":"term","type":"nominal"}}},
{"data":{"name":"plain"},"mark":{"type":"text","align":"center","baseline":"middle","color":"#000"},"encoding":{"x":{"field":"x","type":"quantitative","axis":null},"y":{"field":"y","type":"quantitative","axis":null},"text":{"field":"t"},"size":{"field":"s","type":"quantitative","scale":null}}},
{"data":{"name":"bold"},"mark":{"type":"text","align":"center","baseline":"middle","color":"#000","fontWeight":"bold","fontSize":38},"encoding":{"x":{"field":"x","type":"quantitative","axis":null},"y":{"field":"y","type":"quantitative","axis":null},"text":{"field":"t"}}}
]}
]}
